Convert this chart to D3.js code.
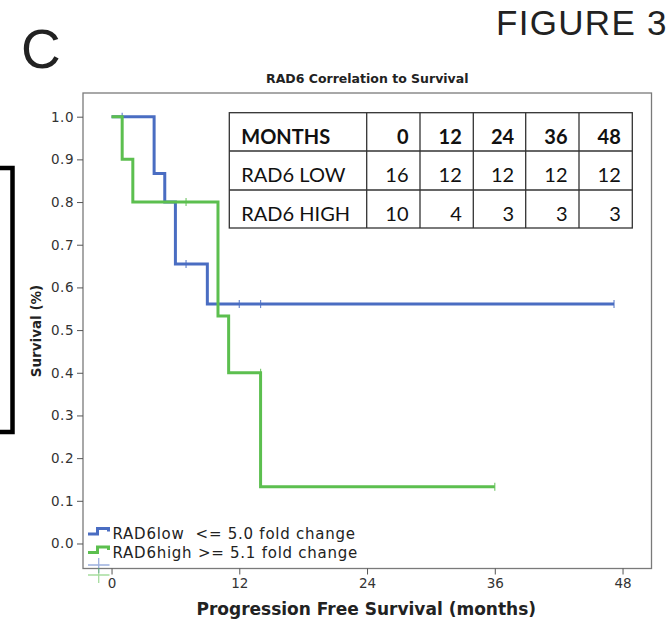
<!DOCTYPE html>
<html>
<head>
<meta charset="utf-8">
<script src="https://cdn.jsdelivr.net/npm/d3@7"></script>
<style>
  html, body { margin: 0; padding: 0; background: #fff; }
  svg { display: block; }
</style>
</head>
<body>
<svg id="fig" width="670" height="620"></svg>
<script>
// ---- data ----
const monthTicks = [0, 12, 24, 36, 48];
const survivalTicks = [0, 0.1, 0.2, 0.3, 0.4, 0.5, 0.6, 0.7, 0.8, 0.9, 1.0];

// RAD6 low group: step times (months) and survival after each step
const lowTimes = [0, 4, 5, 6, 9];
const lowSurvival = [1.0, 0.867, 0.8, 0.655, 0.561];
const lowLastFollowUp = 47.2;
const lowCensored = [1, 7, 12, 14, 47.2];

// RAD6 high group
const highTimes = [0, 1, 2, 10, 11, 14];
const highSurvival = [1.0, 0.9, 0.8, 0.533, 0.4, 0.133];
const highLastFollowUp = 36;
const highCensored = [7, 14, 36];

// numbers at risk table
const tableMonths = [0, 12, 24, 36, 48];
const atRiskLow = [16, 12, 12, 12, 12];
const atRiskHigh = [10, 4, 3, 3, 3];

const legendLabels = ["RAD6low  <= 5.0 fold change", "RAD6high >= 5.1 fold change"];

// ---- drawing ----
const svg = d3.select("#fig");
const blue = "#4a6dc2";
const green = "#5cbf4f";

const plot = { left: 83, right: 651.5, top: 93, bottom: 568.5 };
const x = d3.scaleLinear().domain([-2.68, 50.72]).range([plot.left, plot.right]);
const y = d3.scaleLinear().domain([-0.0586, 1.0555]).range([plot.bottom, plot.top]);

// panel letter and figure label
svg.append("text").attr("x", 21).attr("y", 68)
  .attr("font-family", "Liberation Sans, Arial, sans-serif")
  .attr("font-size", 55).attr("fill", "#222").text("C");
svg.append("text").attr("x", 496).attr("y", 35)
  .attr("font-family", "Liberation Sans, Arial, sans-serif")
  .attr("font-size", 35).attr("letter-spacing", 1.3).attr("fill", "#222").text("FIGURE 3");

// left bracket
svg.append("path")
  .attr("d", "M0,168 H12.5 V432 H0")
  .attr("fill", "none").attr("stroke", "#000").attr("stroke-width", 4.5);

// chart title
svg.append("text").attr("x", (plot.left + plot.right) / 2).attr("y", 83)
  .attr("text-anchor", "middle")
  .attr("font-family", "DejaVu Sans, sans-serif").attr("font-weight", "bold")
  .attr("font-size", 12.5).attr("fill", "#222").text("RAD6 Correlation to Survival");

// plot frame
svg.append("rect")
  .attr("x", plot.left).attr("y", plot.top)
  .attr("width", plot.right - plot.left).attr("height", plot.bottom - plot.top)
  .attr("fill", "#fff").attr("stroke", "#7a7a7a").attr("stroke-width", 1.3);

// axes
const yAxis = d3.axisLeft(y).tickValues(survivalTicks).tickFormat(d3.format(".1f"))
  .tickSizeOuter(0).tickSize(6).tickPadding(3);
const gy = svg.append("g").attr("transform", `translate(${plot.left},0)`).call(yAxis);
gy.select(".domain").remove();

const xAxis = d3.axisBottom(x).tickValues(monthTicks).tickFormat(d3.format("d"))
  .tickSizeOuter(0).tickSize(6).tickPadding(4);
const gx = svg.append("g").attr("transform", `translate(0,${plot.bottom})`).call(xAxis);
gx.select(".domain").remove();

[gx, gy].forEach(g => {
  g.selectAll(".tick line").attr("stroke", "#555").attr("stroke-width", 1);
  g.selectAll(".tick text").attr("fill", "#333")
    .style("font-family", "DejaVu Sans, sans-serif").style("font-size", "13.5px");
});
gy.selectAll(".tick text").attr("letter-spacing", 0.5);

// axis titles
svg.append("text").attr("x", (plot.left + plot.right) / 2 - 1).attr("y", 615)
  .attr("text-anchor", "middle")
  .attr("font-family", "DejaVu Sans, sans-serif").attr("font-weight", "bold")
  .attr("font-size", 17).attr("fill", "#222").text("Progression Free Survival (months)");
svg.append("text")
  .attr("transform", "translate(41,331) rotate(-90)")
  .attr("text-anchor", "middle")
  .attr("font-family", "DejaVu Sans, sans-serif").attr("font-weight", "bold")
  .attr("font-size", 13.5).attr("fill", "#222").text("Survival (%)");

// Kaplan-Meier step curves
function stepPoints(times, surv, last) {
  const pts = times.map((t, i) => [t, surv[i]]);
  pts.push([last, surv[surv.length - 1]]);
  return pts;
}
function survivalAt(times, surv, t) {
  let s = surv[0];
  times.forEach((ti, i) => { if (ti < t) s = surv[i]; });
  return s;
}
const line = d3.line().x(d => x(d[0])).y(d => y(d[1])).curve(d3.curveStepAfter);

const groups = [
  { times: lowTimes, surv: lowSurvival, last: lowLastFollowUp, cens: lowCensored, color: blue },
  { times: highTimes, surv: highSurvival, last: highLastFollowUp, cens: highCensored, color: green }
];

groups.forEach(g => {
  svg.append("path")
    .attr("d", line(stepPoints(g.times, g.surv, g.last)))
    .attr("fill", "none").attr("stroke", g.color).attr("stroke-width", 3)
    .attr("stroke-linejoin", "miter");
  svg.append("g").selectAll("line").data(g.cens).join("line")
    .attr("x1", d => x(d)).attr("x2", d => x(d))
    .attr("y1", d => y(survivalAt(g.times, g.surv, d)) - 4)
    .attr("y2", d => y(survivalAt(g.times, g.surv, d)) + 4)
    .attr("stroke", g.color).attr("stroke-width", 1.2).attr("opacity", 0.8);
});

// legend
const legendColors = [blue, green];
const legendY = [534, 552.5];
legendLabels.forEach((lab, i) => {
  const yy = legendY[i];
  svg.append("path")
    .attr("d", `M88,${yy} H97.5 V${yy - 5.5} H108.5 V${yy - 2.5}`)
    .attr("fill", "none").attr("stroke", legendColors[i]).attr("stroke-width", 3);
  svg.append("text").attr("x", 112.5).attr("y", yy + 5)
    .attr("font-family", "DejaVu Sans, sans-serif").attr("font-size", 15)
    .attr("letter-spacing", 0.75)
    .attr("fill", "#222").attr("xml:space", "preserve").style("white-space", "pre")
    .text(lab);
});
// censor symbols of the legend
[[565, blue], [575, green]].forEach(([cy, c]) => {
  svg.append("path")
    .attr("d", `M88,${cy} H109.5 M98.7,${cy - 7} V${cy + 8}`)
    .attr("stroke", c).attr("stroke-width", 1.3).attr("opacity", 0.55).attr("fill", "none");
});

// numbers at risk table
const colEdges = [229.3, 366.7, 420, 473.3, 525.7, 579, 632.3];
const rowEdges = [112.7, 151, 190, 228];
const table = svg.append("g");
table.append("rect").attr("x", colEdges[0]).attr("y", rowEdges[0])
  .attr("width", colEdges[6] - colEdges[0]).attr("height", rowEdges[3] - rowEdges[0])
  .attr("fill", "#fff").attr("stroke", "#333").attr("stroke-width", 1.3);
colEdges.slice(1, -1).forEach(cx => table.append("line")
  .attr("x1", cx).attr("x2", cx).attr("y1", rowEdges[0]).attr("y2", rowEdges[3])
  .attr("stroke", "#333").attr("stroke-width", 1.3));
rowEdges.slice(1, -1).forEach(ry => table.append("line")
  .attr("x1", colEdges[0]).attr("x2", colEdges[6]).attr("y1", ry).attr("y2", ry)
  .attr("stroke", "#333").attr("stroke-width", 1.3));

const rows = [
  { head: "MONTHS", vals: tableMonths, bold: true },
  { head: "RAD6 LOW", vals: atRiskLow, bold: false },
  { head: "RAD6 HIGH", vals: atRiskHigh, bold: false }
];
rows.forEach((r, ri) => {
  const base = rowEdges[ri] + 31;
  table.append("text").attr("x", colEdges[0] + 12).attr("y", base)
    .attr("font-family", "Lato, sans-serif").attr("font-size", 20)
    .attr("font-weight", r.bold ? "bold" : "normal").attr("fill", "#111").text(r.head);
  r.vals.forEach((v, ci) => {
    table.append("text").attr("x", colEdges[ci + 2] - 11.5).attr("y", base)
      .attr("text-anchor", "end")
      .attr("font-family", "Lato, sans-serif").attr("font-size", 20)
      .attr("font-weight", r.bold ? "bold" : "normal").attr("fill", "#111").text(v);
  });
});
</script>
</body>
</html>
